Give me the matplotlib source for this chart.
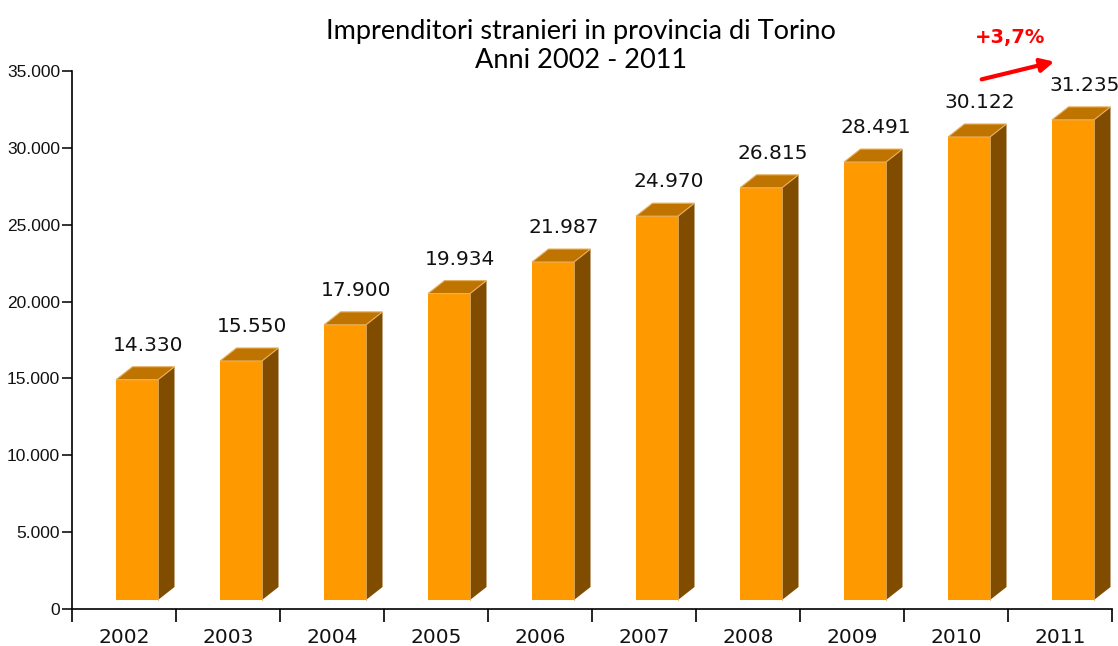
import matplotlib
matplotlib.use("Agg")
import matplotlib.pyplot as plt
from matplotlib.patches import Polygon
from matplotlib.ticker import FuncFormatter, FixedLocator

years = ["2002", "2003", "2004", "2005", "2006", "2007", "2008", "2009", "2010", "2011"]
values = [14330, 15550, 17900, 19934, 21987, 24970, 26815, 28491, 30122, 31235]
value_labels = ["14.330", "15.550", "17.900", "19.934", "21.987", "24.970", "26.815", "28.491", "30.122", "31.235"]
title_text = "Imprenditori stranieri in provincia di Torino\nAnni 2002 - 2011"
growth_label = "+3,7%"

W, H = 1118, 646
fig = plt.figure(figsize=(W / 100, H / 100), dpi=100)
ax = fig.add_axes([72 / W, (H - 609) / H, (1112 - 72) / W, (609 - 71) / H])

ymax = 35000
ax.set_xlim(-0.5, len(years) - 0.5)
ax.set_ylim(0, ymax)

px_y = ymax / (609 - 71)   # data units per pixel (y)
px_x = 1 / 104             # data units per pixel (x)

front_c = "#FF9900"
top_c = "#C07400"
side_c = "#7F4C00"
edge_light = "#E8B060"

off = 9 * px_y
dx = 16.5 * px_x
dy = 13 * px_y
bw = 42 * px_x

for i, v in enumerate(values):
    x0 = i - 0.5 + 44 * px_x
    x1 = x0 + bw
    y0 = off
    y1 = off + v
    ax.add_patch(Polygon([(x0, y0), (x1, y0), (x1, y1), (x0, y1)], closed=True,
                         facecolor=front_c, edgecolor="none", zorder=3))
    ax.add_patch(Polygon([(x1, y0), (x1 + dx, y0 + dy), (x1 + dx, y1 + dy), (x1, y1)], closed=True,
                         facecolor=side_c, edgecolor="none", zorder=3))
    ax.add_patch(Polygon([(x0, y1), (x1, y1), (x1 + dx, y1 + dy), (x0 + dx, y1 + dy)], closed=True,
                         facecolor=top_c, edgecolor=edge_light, linewidth=0.8, zorder=3))
    ax.plot([x1, x1], [y0, y1], color=edge_light, linewidth=0.6, zorder=4)
    ax.text((x0 + x1 + dx) / 2 + 3 * px_x, y1 + dy + 12 * px_y, value_labels[i],
            ha="center", va="bottom", fontsize=14.5, family="DejaVu Sans", color="#111111", zorder=5)

# axes styling
for s in ["top", "right"]:
    ax.spines[s].set_visible(False)
ax.spines["left"].set_linewidth(1.2)
ax.spines["bottom"].set_linewidth(1.2)

ax.yaxis.set_major_locator(FixedLocator(list(range(0, 35001, 5000))))
ax.yaxis.set_major_formatter(FuncFormatter(lambda v, p: f"{int(v):,}".replace(",", ".")))
ax.tick_params(axis="y", length=7, width=1.2, labelsize=12.5, pad=1.5, colors="#111111")
for lab in ax.get_yticklabels():
    lab.set_family("Liberation Sans")

ax.set_xticks([i - 0.5 for i in range(len(years) + 1)])
ax.set_xticklabels([])
ax.set_xticks(list(range(len(years))), minor=True)
ax.set_xticklabels(years, minor=True, fontsize=14.5, family="DejaVu Sans", color="#111111")
ax.tick_params(axis="x", which="major", length=9, width=1.2, direction="out")
ax.tick_params(axis="x", which="minor", length=0, pad=14)

fig.text(581 / W, 1 - 46 / H, title_text, ha="center", va="center", fontsize=19.5,
         family="Lato", linespacing=1.15, color="black")

# growth arrow
ax.annotate("", xy=(1057 / W, 1 - 61 / H), xytext=(979 / W, 1 - 80 / H),
            xycoords="figure fraction", textcoords="figure fraction",
            arrowprops=dict(arrowstyle="-|>,head_length=0.8,head_width=0.4", color="#FF0000", lw=3))
fig.text(1010 / W, 1 - 38 / H, growth_label, ha="center", va="center", fontsize=14,
         fontweight="bold", color="#FF0000", family="DejaVu Sans")

fig.savefig("out.png", dpi=100)
